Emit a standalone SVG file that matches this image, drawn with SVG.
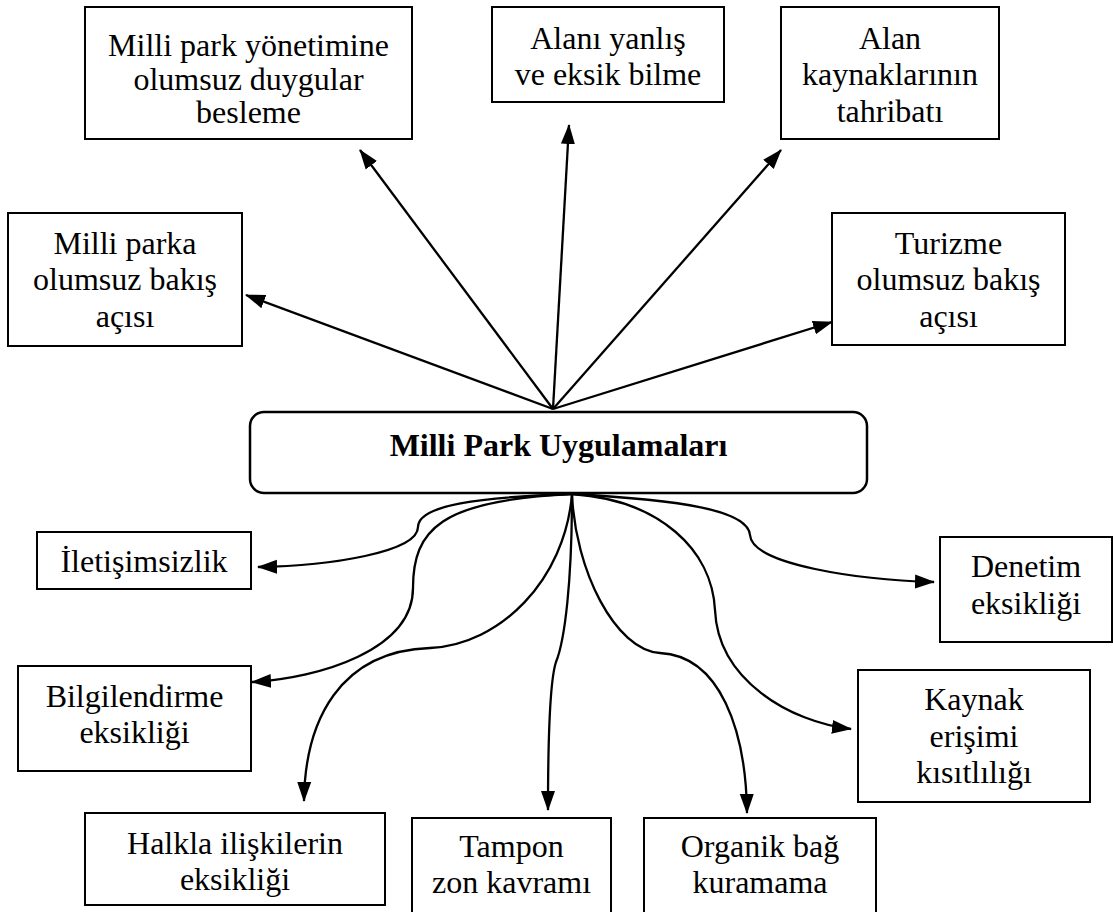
<svg xmlns="http://www.w3.org/2000/svg" width="1113" height="912" viewBox="0 0 1113 912">
<style>
.box{fill:#fff;stroke:#000;stroke-width:2}
text{font-family:"Liberation Serif","DejaVu Serif",serif;font-size:32px;fill:#000;text-anchor:middle}
.b{font-weight:bold}
.c{fill:none;stroke:#000;stroke-width:2.3}
</style>
<defs>
<marker id="ah" viewBox="0 0 20 16" markerWidth="20" markerHeight="16" refX="19" refY="8" orient="auto" markerUnits="userSpaceOnUse"><path d="M0,1 L20,8 L0,15 z" fill="#000"/></marker>
</defs>
<rect width="1113" height="912" fill="#fff"/>
<g id="connectors">
<line class="c" x1="553" y1="409" x2="246" y2="295" marker-end="url(#ah)"/>
<line class="c" x1="553" y1="409" x2="360" y2="150" marker-end="url(#ah)"/>
<line class="c" x1="553" y1="409" x2="569" y2="125" marker-end="url(#ah)"/>
<line class="c" x1="553" y1="409" x2="781" y2="150" marker-end="url(#ah)"/>
<line class="c" x1="553" y1="409" x2="832" y2="322" marker-end="url(#ah)"/>
<path class="c" d="M572,494 C480,497 418,505 418,527 C418,552 330,566 258,567" marker-end="url(#ah)"/>
<path class="c" d="M572,494 C440,500 413,530 413,588 C413,650 320,678 252,682" marker-end="url(#ah)"/>
<path class="c" d="M572,494 C565,580 500,645 430,648 C340,651 305,720 304,801" marker-end="url(#ah)"/>
<path class="c" d="M572,494 C572,580 565,640 556,662 C550,680 548,740 548,810" marker-end="url(#ah)"/>
<path class="c" d="M572,494 C575,570 615,650 660,653 C720,656 746,730 747,813" marker-end="url(#ah)"/>
<path class="c" d="M572,494 C660,500 712,550 715,610 C718,680 790,722 851,729" marker-end="url(#ah)"/>
<path class="c" d="M572,494 C680,500 748,510 750,535 C752,565 860,580 934,582" marker-end="url(#ah)"/>
</g>
<g id="center">
<rect x="250" y="412" width="617" height="81" rx="14" fill="#fff" stroke="#000" stroke-width="2.5"/>
<text class="b" x="558.5" y="456">Milli Park Uygulamaları</text>
</g>
<g id="n1"><rect class="box" x="85" y="7" width="327" height="132"/>
<text x="248.5" y="56">Milli park yönetimine</text><text x="248.5" y="90">olumsuz duygular</text><text x="248.5" y="123">besleme</text></g>
<g id="n2"><rect class="box" x="492" y="7" width="232" height="95"/>
<text x="608" y="49">Alanı yanlış</text><text x="608" y="85">ve eksik bilme</text></g>
<g id="n3"><rect class="box" x="781" y="7" width="218" height="132"/>
<text x="890" y="49">Alan</text><text x="890" y="85">kaynaklarının</text><text x="890" y="122">tahribatı</text></g>
<g id="n4"><rect class="box" x="8" y="213" width="234" height="133"/>
<text x="125" y="254">Milli parka</text><text x="125" y="290">olumsuz bakış</text><text x="125" y="327">açısı</text></g>
<g id="n5"><rect class="box" x="832" y="213" width="233" height="132"/>
<text x="948.5" y="254">Turizme</text><text x="948.5" y="290">olumsuz bakış</text><text x="948.5" y="327">açısı</text></g>
<g id="n6"><rect class="box" x="37" y="532" width="214" height="57"/>
<text x="144" y="572">İletişimsizlik</text></g>
<g id="n7"><rect class="box" x="18" y="666" width="233" height="105"/>
<text x="134.5" y="707">Bilgilendirme</text><text x="134.5" y="743">eksikliği</text></g>
<g id="n8"><rect class="box" x="85" y="813" width="300" height="92"/>
<text x="235" y="854">Halkla ilişkilerin</text><text x="235" y="890">eksikliği</text></g>
<g id="n9"><rect class="box" x="412" y="818" width="199" height="100"/>
<text x="511.5" y="857">Tampon</text><text x="511.5" y="893">zon kavramı</text></g>
<g id="n10"><rect class="box" x="644" y="818" width="232" height="100"/>
<text x="760" y="857">Organik bağ</text><text x="760" y="893">kuramama</text></g>
<g id="n11"><rect class="box" x="940" y="537" width="172" height="105"/>
<text x="1026" y="577">Denetim</text><text x="1026" y="614">eksikliği</text></g>
<g id="n12"><rect class="box" x="858" y="670" width="232" height="132"/>
<text x="974" y="710">Kaynak</text><text x="974" y="747">erişimi</text><text x="974" y="783">kısıtlılığı</text></g>
</svg>
